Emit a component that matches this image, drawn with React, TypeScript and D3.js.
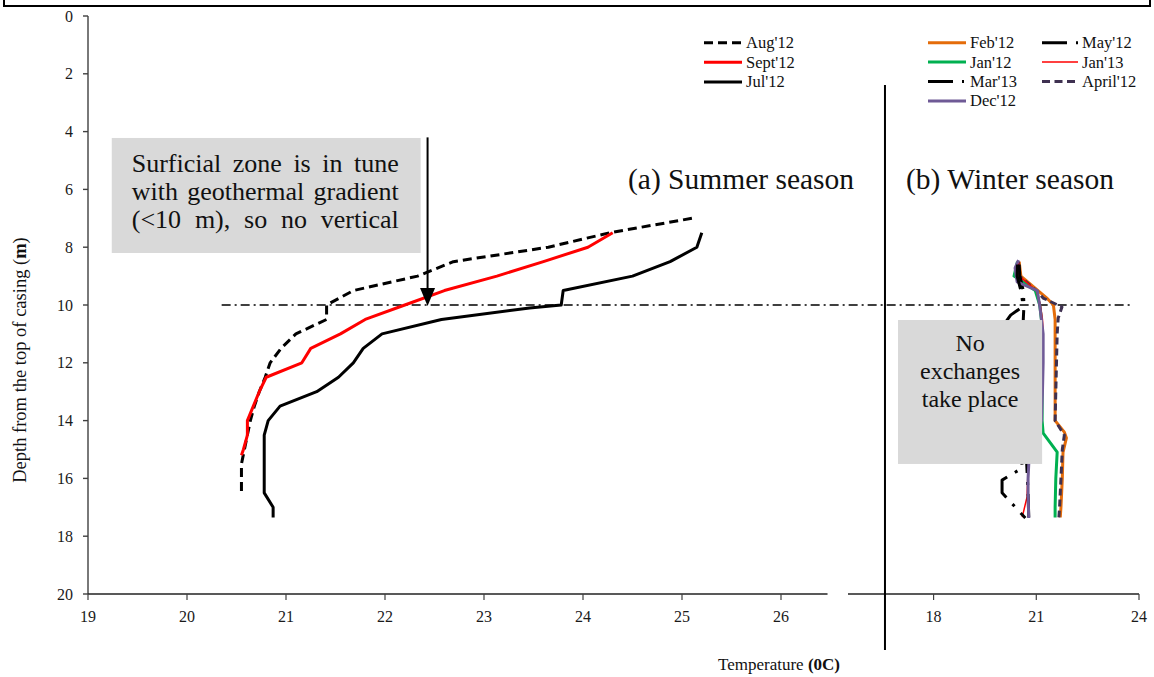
import React, { useLayoutEffect, useRef } from "react";
import * as d3 from "d3";

type P = [number, number]; // [depth m, temperature °C]

// ---------- data: summer season ----------
const aug12: P[] = [
  [7.0, 25.1], [7.5, 24.27], [8.0, 23.65], [8.5, 22.69], [9.0, 22.33], [9.5, 21.68],
  [10.0, 21.41], [10.5, 21.41], [11.0, 21.1], [11.5, 20.95], [12.0, 20.84], [12.5, 20.79],
  [13.0, 20.73], [13.5, 20.68], [14.0, 20.64], [14.5, 20.61], [15.0, 20.58], [15.5, 20.55],
  [16.0, 20.55], [16.5, 20.55],
];
const sept12: P[] = [
  [7.5, 24.3], [8.0, 24.05], [8.5, 23.6], [9.0, 23.13], [9.5, 22.6], [10.0, 22.2],
  [10.5, 21.8], [11.0, 21.55], [11.5, 21.25], [12.0, 21.16], [12.5, 20.8], [13.0, 20.73],
  [13.5, 20.67], [14.0, 20.61], [14.5, 20.61], [15.0, 20.57], [15.2, 20.55],
];
const jul12: P[] = [
  [7.5, 25.2], [8.0, 25.15], [8.5, 24.88], [9.0, 24.5], [9.5, 23.8], [10.0, 23.78],
  [10.1, 23.46], [10.5, 22.57], [11.0, 21.97], [11.5, 21.78], [12.0, 21.68], [12.5, 21.53],
  [13.0, 21.31], [13.5, 20.94], [14.0, 20.82], [14.5, 20.78], [15.0, 20.78], [15.5, 20.78],
  [16.0, 20.78], [16.5, 20.78], [17.0, 20.87], [17.35, 20.87],
];

// ---------- data: winter season ----------
const feb12: P[] = [
  [8.5, 20.5], [9.0, 20.55], [9.5, 21.05], [9.75, 21.3], [10.0, 21.5], [10.5, 21.55],
  [11.0, 21.55], [12.0, 21.55], [13.0, 21.55], [14.0, 21.55], [14.4, 21.82], [14.6, 21.88],
  [15.1, 21.78], [16.0, 21.76], [16.5, 21.74], [17.0, 21.72], [17.35, 21.7],
];
const april12: P[] = [
  [8.5, 20.48], [9.0, 20.5], [9.5, 21.0], [9.76, 21.2], [10.07, 21.75], [10.45, 21.64],
  [11.0, 21.61], [12.0, 21.59], [13.0, 21.57], [14.0, 21.55], [14.5, 21.82], [15.0, 21.76],
  [16.0, 21.72], [17.0, 21.68], [17.35, 21.66],
];
const jan12: P[] = [
  [8.5, 20.45], [9.0, 20.35], [9.5, 20.97], [10.0, 21.1], [10.5, 21.15], [12.0, 21.17],
  [14.0, 21.17], [14.43, 21.2], [15.09, 21.61], [16.0, 21.57], [17.0, 21.55], [17.35, 21.55],
];
const jan13: P[] = [
  [8.5, 20.48], [9.0, 20.5], [9.5, 21.0], [10.0, 21.12], [10.5, 21.18], [11.0, 21.2],
  [12.0, 21.18], [13.0, 21.15], [14.0, 21.1], [15.0, 20.9], [15.5, 20.76], [16.0, 20.75],
  [16.64, 20.73], [17.34, 20.59],
];
const dec12: P[] = [
  [8.45, 20.48], [8.72, 20.38], [9.2, 20.44], [9.5, 21.03], [10.1, 21.11], [11.0, 21.2],
  [12.0, 21.2], [13.0, 21.18], [14.0, 21.15], [15.0, 20.95], [15.5, 20.78], [16.0, 20.76],
  [16.5, 20.76], [17.0, 20.77], [17.37, 20.78],
];
const may12: P[] = [
  [8.6, 20.45], [9.0, 20.44], [9.5, 20.55], [9.9, 20.6], [10.1, 20.55], [10.35, 20.25],
  [10.6, 20.1], [11.0, 20.1], [13.0, 20.3], [15.0, 20.55], [15.64, 20.59], [16.06, 20.0],
  [16.5, 20.0], [17.37, 20.68],
];
const mar13: P[] = [
  [8.6, 20.5], [9.0, 20.52], [9.5, 20.62], [10.0, 20.64], [10.5, 20.62], [12.0, 20.65],
  [14.0, 20.7], [15.5, 20.72], [16.0, 20.74], [16.5, 20.76], [17.35, 20.78],
];

// ---------- ticks / labels ----------
const depthTicks = [0, 2, 4, 6, 8, 10, 12, 14, 16, 18, 20];
const summerTicks = [19, 20, 21, 22, 23, 24, 25, 26];
const winterTicks = [18, 21, 24];

const summerSeries = [
  { name: "Aug'12", data: aug12, color: "#000000", width: 3, dash: "9,5" },
  { name: "Sept'12", data: sept12, color: "#ff0000", width: 3, dash: "" },
  { name: "Jul'12", data: jul12, color: "#000000", width: 3, dash: "" },
];
const winterSeries = [
  { name: "Feb'12", data: feb12, color: "#e46c0a", width: 3, dash: "" },
  { name: "April'12", data: april12, color: "#3f3151", width: 3, dash: "7,4" },
  { name: "Jan'12", data: jan12, color: "#00b050", width: 3, dash: "" },
  { name: "Jan'13", data: jan13, color: "#ff0000", width: 1.5, dash: "" },
  { name: "Mar'13", data: mar13, color: "#000000", width: 3, dash: "25,9,3,9" },
  { name: "Dec'12", data: dec12, color: "#6f5a96", width: 3, dash: "" },
  { name: "May'12", data: may12, color: "#000000", width: 3, dash: "25,9,3,9" },
];
const winterLegendCol1 = ["Feb'12", "Jan'12", "Mar'13", "Dec'12"];
const winterLegendCol2 = ["May'12", "Jan'13", "April'12"];
const legendStyle: Record<string, { color: string; width: number; dash: string }> = {
  "Aug'12": { color: "#000", width: 3, dash: "9,5" },
  "Sept'12": { color: "#ff0000", width: 3, dash: "" },
  "Jul'12": { color: "#000", width: 3, dash: "" },
  "Feb'12": { color: "#e46c0a", width: 3, dash: "" },
  "Jan'12": { color: "#00b050", width: 3, dash: "" },
  "Mar'13": { color: "#000", width: 3, dash: "25,9,2,9" },
  "Dec'12": { color: "#6f5a96", width: 3, dash: "" },
  "May'12": { color: "#000", width: 3, dash: "25,9,2,9" },
  "Jan'13": { color: "#ff0000", width: 1.5, dash: "" },
  "April'12": { color: "#3f3151", width: 3, dash: "8,4.5" },
};

const noteLines = ["Surficial zone is in tune", "with geothermal gradient", "(<10 m), so no vertical"];
const noExLines = ["No", "exchanges", "take place"];

const FONT = "'Liberation Serif', 'Times New Roman', Times, serif";
const TS: React.CSSProperties = { fontFamily: FONT };

export default function App() {
  const noteRef = useRef<SVGGElement>(null);

  const y = d3.scaleLinear().domain([0, 20]).range([16, 594]);
  const xS = d3.scaleLinear().domain([19, 26.47]).range([88, 88 + 7.47 * 99]);
  const xW = d3.scaleLinear().domain([15.5, 24]).range([848, 1139]);

  const lineS = d3.line<P>().x((p) => xS(p[1])).y((p) => y(p[0]));
  const lineW = d3.line<P>().x((p) => xW(p[1])).y((p) => y(p[0]));

  // annotation geometry (data units)
  const noteBox = { x0: xS(19.24), x1: xS(22.36), y0: y(4.22), y1: y(8.2) };
  const arrowX = xS(22.43);
  const arrowTop = y(4.2);
  const arrowTip = y(10);
  const noExBox = { x0: xW(16.96), x1: xW(21.17), y0: y(10.52), y1: y(15.5) };
  const dividerX = xW(16.58);

  const textX = noteBox.x0 + 20;
  const textW = 267;

  useLayoutEffect(() => {
    const g = noteRef.current;
    if (!g) return;
    const texts = Array.from(g.querySelectorAll("text")) as SVGTextElement[];
    texts.forEach((t) => {
      t.setAttribute("word-spacing", "0");
      const w = t.getComputedTextLength();
      const spaces = (t.textContent || "").split(" ").length - 1;
      if (spaces > 0) t.setAttribute("word-spacing", String((textW - w) / spaces));
    });
  }, []);

  const legendRow = (name: string, x0: number, x1: number, yy: number, key: string) => {
    const s = legendStyle[name];
    return (
      <g key={key}>
        <line x1={x0} x2={x1} y1={yy} y2={yy} stroke={s.color} strokeWidth={s.width}
          strokeDasharray={s.dash || undefined} />
        <text x={x1 + 4} y={yy + 5.5} fontSize={16.5} fill="#111" style={TS}>{name}</text>
      </g>
    );
  };

  return (
    <svg width={1154} height={677} style={{ position: "absolute", left: 0, top: 0, background: "#fff", fontFamily: FONT }}>
      {/* frame remnant */}
      <path d="M4,0 V6 H1150 V0" fill="none" stroke="#000" strokeWidth={2} />

      {/* y axis */}
      <line x1={88} x2={88} y1={y(0)} y2={y(20)} stroke="#404040" strokeWidth={1.4} />
      {depthTicks.map((t) => (
        <g key={"yt" + t}>
          <line x1={83} x2={88} y1={y(t)} y2={y(t)} stroke="#404040" strokeWidth={1.4} />
          <text x={73} y={y(t) + 5.5} fontSize={16} textAnchor="end" fill="#1a1a1a" style={TS}>{t}</text>
        </g>
      ))}
      <text transform={`translate(25.5,360) rotate(-90)`} textAnchor="middle" fontSize={18.5} fill="#111" style={TS}>
        Depth from the top of casing <tspan>(</tspan><tspan fontWeight="bold">m</tspan><tspan>)</tspan>
      </text>

      {/* summer x axis */}
      <line x1={xS(19)} x2={xS(26.47)} y1={594} y2={594} stroke="#222" strokeWidth={1.6} />
      {summerTicks.map((t) => (
        <g key={"xs" + t}>
          <line x1={xS(t)} x2={xS(t)} y1={594} y2={600} stroke="#404040" strokeWidth={1.2} />
          <text x={xS(t)} y={622} fontSize={16} textAnchor="middle" fill="#1a1a1a" style={TS}>{t}</text>
        </g>
      ))}
      {/* winter x axis */}
      <line x1={xW(15.5)} x2={xW(24)} y1={594} y2={594} stroke="#222" strokeWidth={1.6} />
      {winterTicks.map((t) => (
        <g key={"xw" + t}>
          <line x1={xW(t)} x2={xW(t)} y1={594} y2={600} stroke="#404040" strokeWidth={1.2} />
          <text x={xW(t)} y={622} fontSize={16} textAnchor="middle" fill="#1a1a1a" style={TS}>{t}</text>
        </g>
      ))}
      <text x={718} y={670} fontSize={17} fill="#111" style={TS}>
        Temperature <tspan fontWeight="bold">(0C)</tspan>
      </text>

      {/* divider between panels */}
      <line x1={dividerX} x2={dividerX} y1={y(2.39)} y2={y(21.94)} stroke="#000" strokeWidth={2} />

      {/* reference line at 10 m */}
      <line x1={xS(20.35)} x2={xW(23.75)} y1={y(10)} y2={y(10)} stroke="#000" strokeWidth={1.5}
        strokeDasharray="9,4,2,4" />

      {/* summer profiles */}
      {summerSeries.map((s) => (
        <path key={s.name} d={lineS(s.data) || ""} fill="none" stroke={s.color} strokeWidth={s.width}
          strokeDasharray={s.dash || undefined} strokeLinejoin="round" />
      ))}

      {/* winter profiles */}
      {winterSeries.map((s) => (
        <path key={s.name} d={lineW(s.data) || ""} fill="none" stroke={s.color} strokeWidth={s.width}
          strokeDasharray={s.dash || undefined} strokeLinejoin="round" />
      ))}

      {/* summer note */}
      <rect x={noteBox.x0} y={noteBox.y0} width={noteBox.x1 - noteBox.x0} height={noteBox.y1 - noteBox.y0}
        fill="#d9d9d9" />
      <g ref={noteRef}>
        {noteLines.map((l, i) => (
          <text key={l} x={textX} y={172 + i * 28} fontSize={26} fill="#111" style={{ ...TS, whiteSpace: "pre" }}>{l}</text>
        ))}
      </g>
      <line x1={arrowX} x2={arrowX} y1={arrowTop} y2={arrowTip - 14} stroke="#000" strokeWidth={2} />
      <path d={`M${arrowX - 7.5},${arrowTip - 17} L${arrowX + 7.5},${arrowTip - 17} L${arrowX},${arrowTip + 1} Z`} fill="#000" />

      {/* winter note */}
      <rect x={noExBox.x0} y={noExBox.y0} width={noExBox.x1 - noExBox.x0} height={noExBox.y1 - noExBox.y0}
        fill="#d9d9d9" />
      {noExLines.map((l, i) => (
        <text key={l} x={(noExBox.x0 + noExBox.x1) / 2} y={351 + i * 28} fontSize={24} textAnchor="middle" fill="#111" style={TS}>{l}</text>
      ))}

      {/* season titles */}
      <text x={628} y={189} fontSize={29.5} fill="#111" style={TS}>(a) Summer season</text>
      <text x={906} y={189} fontSize={29.5} fill="#111" style={TS}>(b) Winter season</text>

      {/* legends */}
      {summerSeries.map((s, i) => legendRow(s.name, 704, 742, 42.7 + i * 19.6, "ls" + i))}
      {winterLegendCol1.map((n, i) => legendRow(n, 928, 966, 42.7 + i * 19.4, "lw1" + i))}
      {winterLegendCol2.map((n, i) => legendRow(n, 1042, 1078, 42.7 + i * 19.4, "lw2" + i))}
    </svg>
  );
}
